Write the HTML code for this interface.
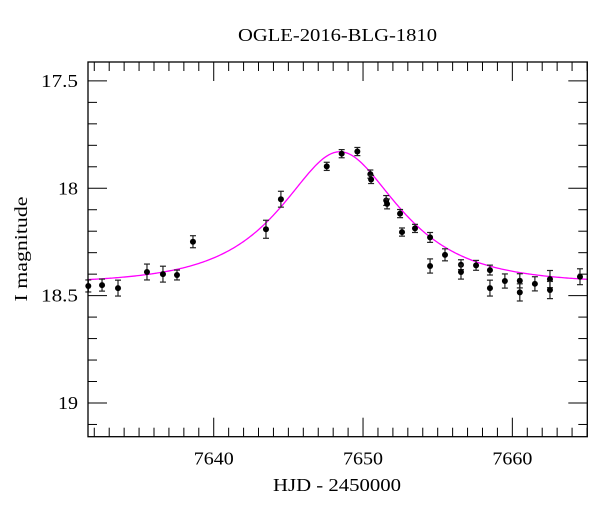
<!DOCTYPE html>
<html><head><meta charset="utf-8"><style>
html,body{margin:0;padding:0;background:#fff;}
svg text{font-family:"Liberation Serif",serif;fill:#000;}
</style></head><body>
<svg id="chart" width="600" height="512" viewBox="0 0 600 512" xmlns="http://www.w3.org/2000/svg">
<text x="337.5" y="41" font-size="18" text-anchor="middle" textLength="199" lengthAdjust="spacingAndGlyphs">OGLE-2016-BLG-1810</text>
<text x="337" y="491" font-size="18" text-anchor="middle" textLength="128" lengthAdjust="spacingAndGlyphs">HJD - 2450000</text>
<text transform="translate(27,249) rotate(-90)" font-size="18" text-anchor="middle" textLength="105" lengthAdjust="spacingAndGlyphs">I magnitude</text>
<g id="ticks"></g>
<g id="model"></g>
<g id="points"></g>
<rect x="88" y="62" width="499.3" height="374.7" fill="none" stroke="#000" stroke-width="1.3"/>
</svg>
<script>
const hjd=[7631.6,7632.52,7633.59,7635.53,7636.6,7637.54,7638.61,7643.5,7644.5,7647.57,7648.57,7649.62,7650.49,7650.54,7651.55,7651.61,7652.48,7652.61,7653.48,7654.49,7654.49,7655.49,7656.56,7656.56,7657.57,7658.5,7658.5,7659.5,7660.5,7660.5,7661.51,7662.52,7662.52,7664.53];
const mag=[18.455,18.451,18.465,18.39,18.40,18.404,18.249,18.191,18.051,17.898,17.839,17.829,17.934,17.959,18.057,18.073,18.118,18.204,18.187,18.229,18.362,18.31,18.356,18.39,18.359,18.381,18.465,18.432,18.431,18.485,18.445,18.423,18.474,18.412];
const magErr=[0.028,0.028,0.037,0.037,0.037,0.023,0.028,0.042,0.037,0.019,0.019,0.019,0.019,0.019,0.023,0.023,0.019,0.019,0.019,0.023,0.033,0.028,0.023,0.033,0.023,0.023,0.037,0.033,0.033,0.04,0.033,0.04,0.04,0.037];
const modelT0=[7648.45];
const modelTE=[5.9];
const modelU0=[0.655];
const modelBase=[18.445];
const xTicks=[7640,7650,7660];
const yTicks=[17.5,18,18.5,19];
const X0=7631.58,X1=7665.02,Y0=17.412,Y1=19.157;
const L=88,R=587.3,T=62,B=436.7;
const NS="http://www.w3.org/2000/svg";
function sx(v){return L+(v-X0)/(X1-X0)*(R-L);}
function sy(v){return T+(v-Y0)/(Y1-Y0)*(B-T);}
function mk(tag,attrs,parent){const e=document.createElementNS(NS,tag);for(const k in attrs)e.setAttribute(k,attrs[k]);parent.appendChild(e);return e;}
const tg=document.getElementById('ticks');
for(let d=7632;d<=7665;d++){
  const major=d%10===0;const len=major?19:9;const x=sx(d);
  let t=mk('line',{x1:x,x2:x,y1:B,y2:B-len,stroke:'#000','stroke-width':1},tg);
  
  
  let t2=mk('line',{x1:x,x2:x,y1:T,y2:T+len,stroke:'#000','stroke-width':1},tg);
  
  
}
xTicks.forEach(v=>{
  const t=mk('text',{x:sx(v),y:B+28,'font-size':18,'text-anchor':'middle',textLength:40,lengthAdjust:'spacingAndGlyphs'},tg);t.textContent=v;
  
  
});
for(let i=175;i<=191;i++){
  const v=i/10;const major=i%5===0;const len=major?19:9;const y=sy(v);
  if(y<T||y>B)continue;
  let t=mk('line',{x1:L,x2:L+len,y1:y,y2:y,stroke:'#000','stroke-width':1},tg);
  
  
  let t2=mk('line',{x1:R,x2:R-len,y1:y,y2:y,stroke:'#000','stroke-width':1},tg);
  
  
}
yTicks.forEach(v=>{
  const s=String(v);
  const t=mk('text',{x:L-10,y:sy(v)+6,'font-size':18,'text-anchor':'end',textLength:s.length>2?37:20,lengthAdjust:'spacingAndGlyphs'},tg);t.textContent=s;
  
  
});
function modelMag(t){
  const tau=(t-modelT0[0])/modelTE[0];const u=Math.sqrt(modelU0[0]*modelU0[0]+tau*tau);
  const A=(u*u+2)/(u*Math.sqrt(u*u+4));return modelBase[0]-2.5*Math.log10(A);
}
let d='';
for(let i=0;i<=400;i++){const t=X0+(X1-X0)*i/400;d+=(i?'L':'M')+sx(t).toFixed(2)+','+sy(modelMag(t)).toFixed(2);}
const mg=document.getElementById('model');
const p=mk('path',{d:d,fill:'none',stroke:'#ff00ff','stroke-width':1.3},mg);


const pg=document.getElementById('points');
hjd.forEach((t,i)=>{
  const x=sx(t),y=sy(mag[i]),y1=sy(mag[i]-magErr[i]),y2=sy(mag[i]+magErr[i]);
  const g=mk('g',{},pg);
  
  
  mk('line',{x1:x,x2:x,y1:y1,y2:y2,stroke:'#222','stroke-width':1.2},g);
  mk('line',{x1:x-3,x2:x+3,y1:y1,y2:y1,stroke:'#222','stroke-width':1.2},g);
  mk('line',{x1:x-3,x2:x+3,y1:y2,y2:y2,stroke:'#222','stroke-width':1.2},g);
  mk('circle',{cx:x,cy:y,r:3,fill:'#000'},g);
});
</script>
</body></html>
